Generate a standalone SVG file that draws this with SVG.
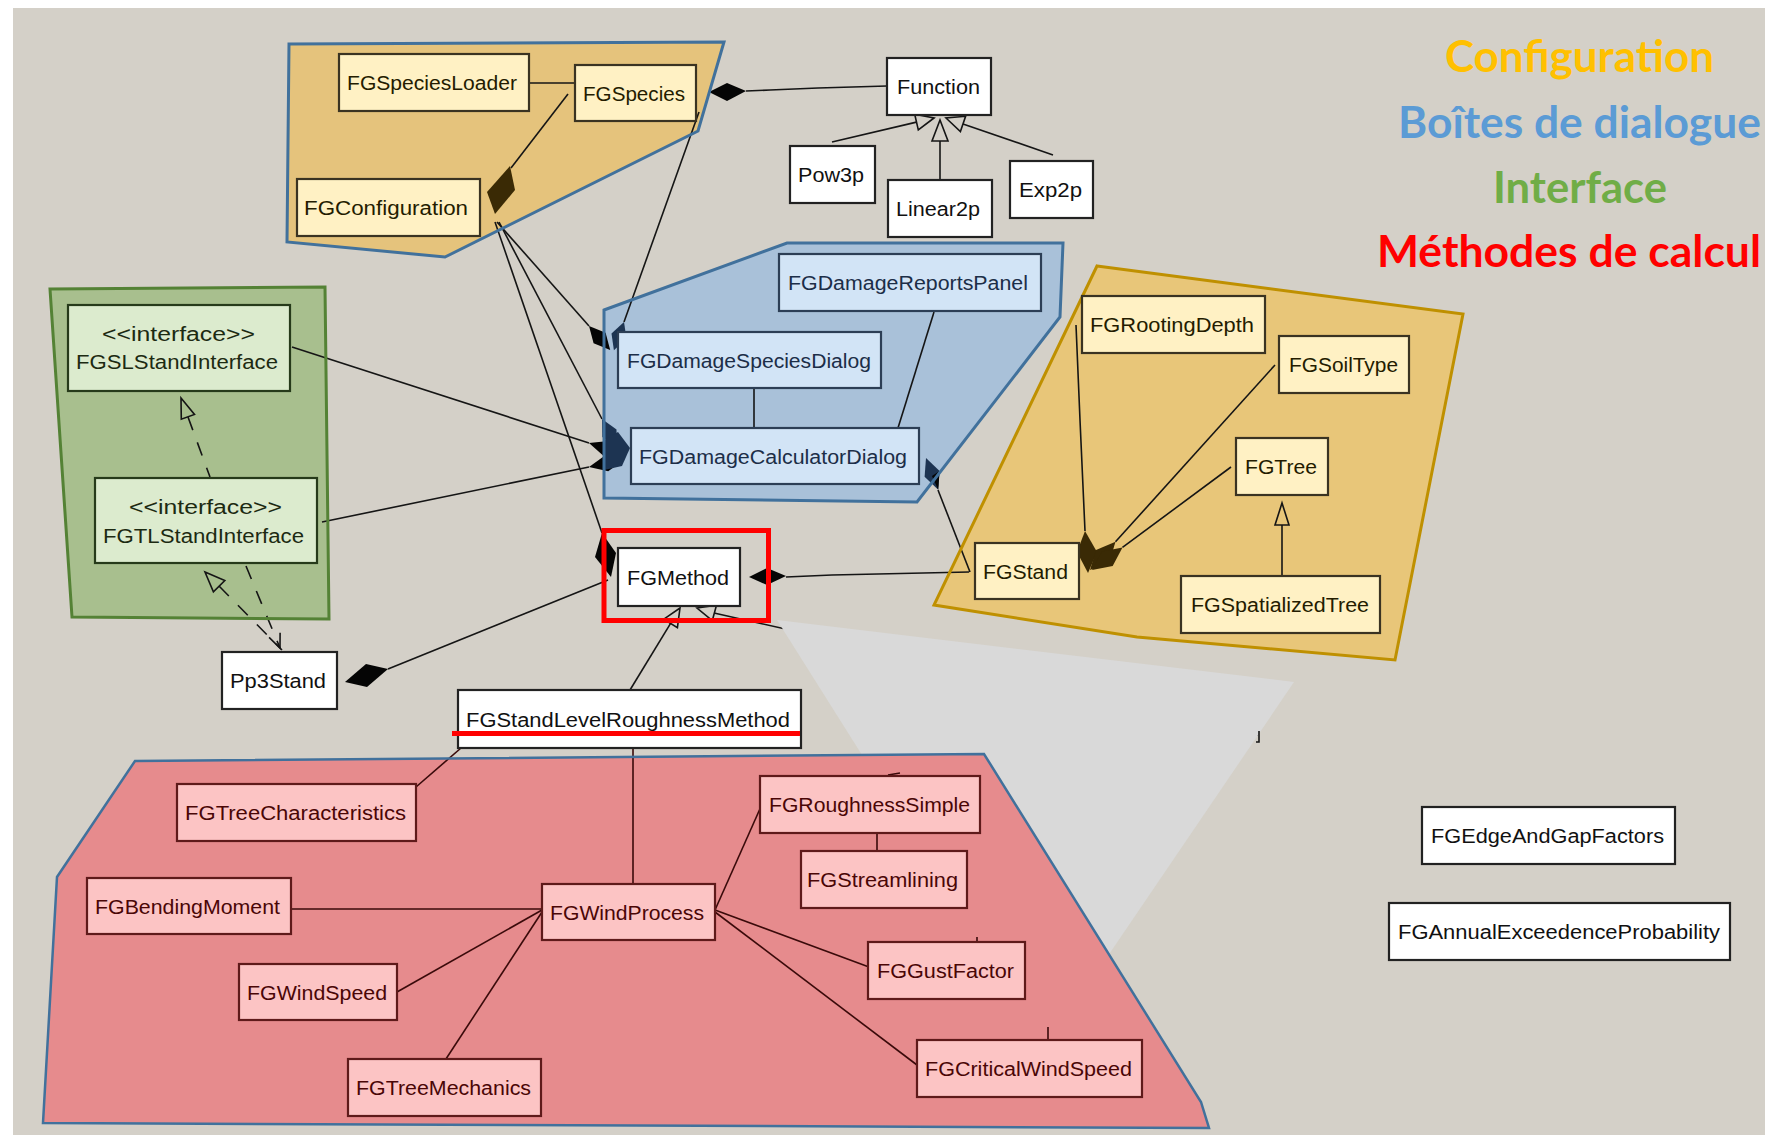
<svg xmlns="http://www.w3.org/2000/svg" width="1765" height="1135" viewBox="0 0 1765 1135">
<style>
.bx{stroke-width:2.2}
.cfg{fill:#fff1c4;stroke:#3a3322}
.dlg{fill:#d2e4f6;stroke:#2c3e55}
.itf{fill:#dcebce;stroke:#263a1a}
.pl{fill:#ffffff;stroke:#222222}
.clc{fill:#fcc4c4;stroke:#5e1a1a}
.t{font-family:"Liberation Sans",Arial,sans-serif;font-size:20px}
.tcfg{fill:#241c00}
.tdlg{fill:#1c2e48}
.titf{fill:#1c2a12}
.tpl{fill:#111111}
.tclc{fill:#4a0606}
.ln{fill:none;stroke:#151515;stroke-width:1.6}
.lnr{fill:none;stroke:#3a0a0a;stroke-width:1.6}
.dash{stroke-dasharray:14 13}
.dia{fill:#050505}
.diab{fill:#1d3452}
.diag{fill:#3a2a05}
.hol{fill:#d4d0c8;stroke:#151515;stroke-width:1.6}
.title{font-family:Lato,"Liberation Sans",sans-serif;font-weight:bold;font-size:44px}
</style>
<rect x="13" y="8" width="1752" height="1127" fill="#d4d0c8"/>
<g id="regions">
<polygon id="reg-config" points="289,44 724,42 698,131 445,257 287,242" fill="#e5c37c"/>
<polygon id="reg-dialog" points="604,310 787,243 1063,243 1060,317 917,502 604,498" fill="#a9c1d9"/>
<polygon id="reg-interface" points="50,289 325,287 329,619 72,617" fill="#a8bf8e"/>
<polygon id="reg-stand" points="1097,266 1463,314 1395,660 1137,637 934,605" fill="#e8c679"/>
</g>
<g id="connectors">
<path class="ln" d="M529,83 L575,83"/>
<path class="ln" d="M746,91 L770,90 L818,88 L887,86"/>
<polygon class="dia" points="709,92 727,83 746,91 727,101"/>
<path class="ln" d="M511,168 L568,94"/>
<polygon class="diag" points="510,166 515,190 495,214 487,192"/>
<path class="ln" d="M497,222 L589,326"/>
<polygon class="dia" points="589,326 605.6,332.7 610.2,350 593.6,343.3"/>
<path class="ln" d="M699,112 L624,322"/>
<polygon class="diab" points="624,322 626.5,338.8 613.9,350.3 611.5,333.4"/>
<path class="ln" d="M499,222 L602,419"/>
<polygon class="diab" points="602,419 616.5,429.5 616.8,447.4 602.3,436.9"/>
<path class="ln" d="M292,347 L589,443"/>
<polygon class="dia" points="589,443 608.6,440.9 623.3,454.1 603.6,456.1"/>
<path class="ln" d="M322,522 L589,467"/>
<polygon class="dia" points="589,467 605,455.6 624.3,459.7 608.2,471.2"/>
<polygon class="diab" points="604,440 618,432 630,448 622,466 604,470"/>
<path class="ln" d="M495,222 L602,533"/>
<polygon class="dia" points="602,533 616,553 611,577 595,557"/>
<path class="ln" d="M754,388 L754,428"/>
<path class="ln" d="M934,312 L898,428"/>
<path class="ln" d="M970,572 L938,490"/>
<polygon class="diab" points="926,458 939.6,471 938.2,489.7 924.6,476.8"/>
<polygon class="dia" points="932,476 939.6,471 938.2,489.7"/>
<path class="ln" d="M786,577 L832,575 L969,572"/>
<polygon class="dia" points="749,577 767,568 786,576 767,585"/>
<path class="ln" d="M388,669 L608,580"/>
<polygon class="dia" points="345,682 366,664 388,669 367,687"/>
<path class="ln" d="M630,690 L670.6,623.4"/>
<polygon class="hol" points="680,608 677.4,627.6 663.8,619.2"/>
<path class="ln" d="M714,613 L1258,735"/>
<polygon class="hol" points="697,608 716.5,605.1 712.3,620.5"/>
<path class="ln dash" d="M188,417 L210,477"/>
<polygon class="hol" points="181,398 194.5,414.4 181.3,419.2" style="fill:#a8bf8e"/>
<path class="ln dash" d="M219,586 L282,650"/>
<polygon class="hol" points="205,572 224.8,580.6 213.4,591.8" style="fill:#a8bf8e"/>
<path class="ln dash" d="M246,566 L280,648"/>
<path class="ln" d="M280.1,632.8 L280,648 L269.1,637.4"/>
<path class="ln" d="M1282,576 L1282,525"/>
<polygon class="hol" points="1282,503 1275,525 1289,525" style="fill:#e8c679"/>
<path class="ln" d="M1076,325 L1080,420 L1085,531"/>
<polygon class="diag" points="1088,573 1077,552 1085,531 1097,552"/>
<path class="ln" d="M1275,365 L1115.5,541.8"/>
<polygon class="diag" points="1090,570 1096,549.9 1115.5,541.8 1109.4,561.9"/>
<path class="ln" d="M1231,467 L1122.5,547.4"/>
<polygon class="diag" points="1092,570 1101.9,551.5 1122.5,547.4 1112.7,565.9"/>
<path class="ln" d="M832,142 L916.5,122.1"/>
<polygon class="hol" points="934,118 918.3,129.9 914.7,114.3"/>
<path class="ln" d="M940,180 L940,141"/>
<polygon class="hol" points="940,120 932,141 948,141"/>
<path class="ln" d="M1053,155 L963,123.9"/>
<polygon class="hol" points="946,118 960.4,131.5 965.6,116.3"/>
</g>
<polygon id="callout" points="777,620 1294,682 1046,1047" fill="#d9d9d9"/>
<path class="ln" d="M1256,742 L1259,742 L1259,731"/>
<polygon id="reg-calcul" points="135,761 984,754 1201,1102 1209,1128 43,1123 57,877" fill="#e68b8d"/>
<g id="connectors-calcul">
<path class="lnr" d="M633,748 L633,884"/>
<path class="lnr" d="M461,748 L416,787"/>
<path class="lnr" d="M291,909 L542,909"/>
<path class="lnr" d="M397,992 L542,910"/>
<path class="lnr" d="M444,1062 L542,912"/>
<path class="lnr" d="M715,910 L763,802"/>
<path class="lnr" d="M877,833 L877,851"/>
<path class="lnr" d="M715,910 L869,967"/>
<path class="lnr" d="M715,912 L917,1065"/>
<path class="lnr" d="M1048,1027 L1048,1040 M977,937 L977,942 M871,776 L875,776 M888,775 L900,773"/>
</g>
<g id="region-strokes" fill="none" stroke-width="3">
<polygon points="289,44 724,42 698,131 445,257 287,242" stroke="#41719c"/>
<polygon points="604,310 787,243 1063,243 1060,317 917,502 604,498" stroke="#41719c"/>
<polygon points="50,289 325,287 329,619 72,617" stroke="#548235"/>
<polygon points="1097,266 1463,314 1395,660 1137,637 934,605" stroke="#bf9000"/>
<polygon points="135,761 984,754 1201,1102 1209,1128 43,1123 57,877" stroke="#41719c" stroke-width="2.5"/>
</g>
<g id="FGSpeciesLoader"><rect class="bx cfg" x="339" y="54" width="190" height="57"/><text class="t tcfg" x="347" y="90" textLength="170" lengthAdjust="spacingAndGlyphs">FGSpeciesLoader</text></g>
<g id="FGSpecies"><rect class="bx cfg" x="575" y="65" width="121" height="56"/><text class="t tcfg" x="583" y="100.5" textLength="102" lengthAdjust="spacingAndGlyphs">FGSpecies</text></g>
<g id="FGConfiguration"><rect class="bx cfg" x="297" y="179" width="183" height="57"/><text class="t tcfg" x="304" y="215" textLength="164" lengthAdjust="spacingAndGlyphs">FGConfiguration</text></g>
<g id="Function"><rect class="bx pl" x="887" y="58" width="104" height="57"/><text class="t tpl" x="897" y="94" textLength="83" lengthAdjust="spacingAndGlyphs">Function</text></g>
<g id="Pow3p"><rect class="bx pl" x="790" y="146" width="85" height="57"/><text class="t tpl" x="798" y="182" textLength="66" lengthAdjust="spacingAndGlyphs">Pow3p</text></g>
<g id="Linear2p"><rect class="bx pl" x="888" y="180" width="104" height="57"/><text class="t tpl" x="896" y="216" textLength="84" lengthAdjust="spacingAndGlyphs">Linear2p</text></g>
<g id="Exp2p"><rect class="bx pl" x="1010" y="161" width="83" height="57"/><text class="t tpl" x="1019" y="197" textLength="63" lengthAdjust="spacingAndGlyphs">Exp2p</text></g>
<g id="FGSLStandInterface"><rect class="bx itf" x="68" y="305" width="222" height="86"/><text class="t titf" x="102" y="341" textLength="153" lengthAdjust="spacingAndGlyphs">&lt;&lt;interface&gt;&gt;</text><text class="t titf" x="76" y="369" textLength="202" lengthAdjust="spacingAndGlyphs">FGSLStandInterface</text></g>
<g id="FGTLStandInterface"><rect class="bx itf" x="95" y="478" width="222" height="85"/><text class="t titf" x="129" y="514" textLength="153" lengthAdjust="spacingAndGlyphs">&lt;&lt;interface&gt;&gt;</text><text class="t titf" x="103" y="543" textLength="201" lengthAdjust="spacingAndGlyphs">FGTLStandInterface</text></g>
<g id="FGDamageReportsPanel"><rect class="bx dlg" x="779" y="254" width="262" height="57"/><text class="t tdlg" x="788" y="290" textLength="240" lengthAdjust="spacingAndGlyphs">FGDamageReportsPanel</text></g>
<g id="FGDamageSpeciesDialog"><rect class="bx dlg" x="618" y="332" width="263" height="56"/><text class="t tdlg" x="627" y="367.5" textLength="244" lengthAdjust="spacingAndGlyphs">FGDamageSpeciesDialog</text></g>
<g id="FGDamageCalculatorDialog"><rect class="bx dlg" x="631" y="428" width="288" height="56"/><text class="t tdlg" x="639" y="463.5" textLength="268" lengthAdjust="spacingAndGlyphs">FGDamageCalculatorDialog</text></g>
<g id="FGMethod"><rect class="bx pl" x="618" y="548" width="122" height="58"/><text class="t tpl" x="627" y="584.5" textLength="102" lengthAdjust="spacingAndGlyphs">FGMethod</text></g>
<g id="Pp3Stand"><rect class="bx pl" x="222" y="652" width="115" height="57"/><text class="t tpl" x="230" y="688" textLength="96" lengthAdjust="spacingAndGlyphs">Pp3Stand</text></g>
<g id="FGRootingDepth"><rect class="bx cfg" x="1082" y="296" width="183" height="57"/><text class="t tcfg" x="1090" y="332" textLength="164" lengthAdjust="spacingAndGlyphs">FGRootingDepth</text></g>
<g id="FGSoilType"><rect class="bx cfg" x="1279" y="336" width="130" height="57"/><text class="t tcfg" x="1289" y="372" textLength="109" lengthAdjust="spacingAndGlyphs">FGSoilType</text></g>
<g id="FGTree"><rect class="bx cfg" x="1236" y="438" width="92" height="57"/><text class="t tcfg" x="1245" y="474" textLength="72" lengthAdjust="spacingAndGlyphs">FGTree</text></g>
<g id="FGStand"><rect class="bx cfg" x="975" y="543" width="104" height="56"/><text class="t tcfg" x="983" y="578.5" textLength="85" lengthAdjust="spacingAndGlyphs">FGStand</text></g>
<g id="FGSpatializedTree"><rect class="bx cfg" x="1181" y="576" width="199" height="57"/><text class="t tcfg" x="1191" y="612" textLength="178" lengthAdjust="spacingAndGlyphs">FGSpatializedTree</text></g>
<g id="FGStandLevelRoughnessMethod"><rect class="bx pl" x="458" y="690" width="343" height="58"/><text class="t tpl" x="466" y="727" textLength="324" lengthAdjust="spacingAndGlyphs">FGStandLevelRoughnessMethod</text></g>
<g id="FGTreeCharacteristics"><rect class="bx clc" x="177" y="784" width="239" height="57"/><text class="t tclc" x="185" y="820" textLength="221" lengthAdjust="spacingAndGlyphs">FGTreeCharacteristics</text></g>
<g id="FGBendingMoment"><rect class="bx clc" x="87" y="878" width="204" height="56"/><text class="t tclc" x="95" y="913.5" textLength="185" lengthAdjust="spacingAndGlyphs">FGBendingMoment</text></g>
<g id="FGWindProcess"><rect class="bx clc" x="542" y="884" width="173" height="56"/><text class="t tclc" x="550" y="919.5" textLength="154" lengthAdjust="spacingAndGlyphs">FGWindProcess</text></g>
<g id="FGWindSpeed"><rect class="bx clc" x="239" y="964" width="158" height="56"/><text class="t tclc" x="247" y="999.5" textLength="140" lengthAdjust="spacingAndGlyphs">FGWindSpeed</text></g>
<g id="FGTreeMechanics"><rect class="bx clc" x="348" y="1059" width="193" height="57"/><text class="t tclc" x="356" y="1095" textLength="175" lengthAdjust="spacingAndGlyphs">FGTreeMechanics</text></g>
<g id="FGRoughnessSimple"><rect class="bx clc" x="760" y="776" width="220" height="57"/><text class="t tclc" x="769" y="812" textLength="201" lengthAdjust="spacingAndGlyphs">FGRoughnessSimple</text></g>
<g id="FGStreamlining"><rect class="bx clc" x="801" y="851" width="166" height="57"/><text class="t tclc" x="807" y="887" textLength="151" lengthAdjust="spacingAndGlyphs">FGStreamlining</text></g>
<g id="FGGustFactor"><rect class="bx clc" x="868" y="942" width="157" height="57"/><text class="t tclc" x="877" y="978" textLength="137" lengthAdjust="spacingAndGlyphs">FGGustFactor</text></g>
<g id="FGCriticalWindSpeed"><rect class="bx clc" x="917" y="1040" width="225" height="57"/><text class="t tclc" x="925" y="1076" textLength="207" lengthAdjust="spacingAndGlyphs">FGCriticalWindSpeed</text></g>
<g id="FGEdgeAndGapFactors"><rect class="bx pl" x="1422" y="807" width="253" height="57"/><text class="t tpl" x="1431" y="843" textLength="233" lengthAdjust="spacingAndGlyphs">FGEdgeAndGapFactors</text></g>
<g id="FGAnnualExceedenceProbability"><rect class="bx pl" x="1389" y="903" width="341" height="57"/><text class="t tpl" x="1398" y="939" textLength="322" lengthAdjust="spacingAndGlyphs">FGAnnualExceedenceProbability</text></g>
<g id="highlights" fill="none" stroke="#ff0000" stroke-width="5">
<rect x="604" y="530.5" width="164.5" height="90"/>
<path d="M452,733.5 L800,733.5"/>
</g>
<g id="legend">
<text class="title" x="1445" y="72" fill="#ffc000" textLength="269" lengthAdjust="spacingAndGlyphs">Configuration</text>
<text class="title" x="1398" y="138" fill="#5b9bd5" textLength="363" lengthAdjust="spacingAndGlyphs">Boîtes de dialogue</text>
<text class="title" x="1493" y="203" fill="#70ad47" textLength="174" lengthAdjust="spacingAndGlyphs">Interface</text>
<text class="title" x="1377" y="267" fill="#ff0000" textLength="384" lengthAdjust="spacingAndGlyphs">Méthodes de calcul</text>
</g>
</svg>
